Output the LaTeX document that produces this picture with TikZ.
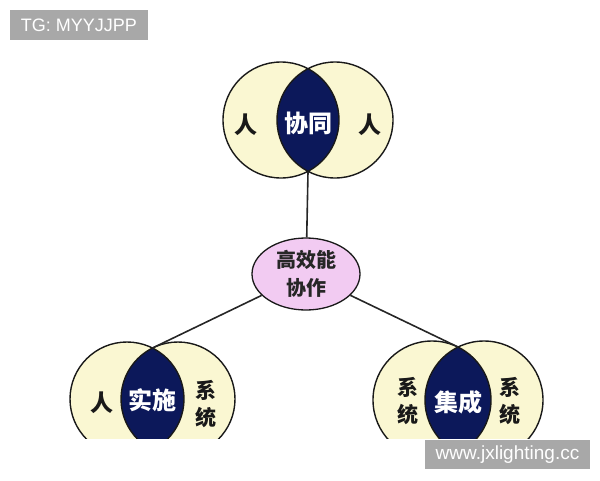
\documentclass[tikz,border=0pt]{standalone}
\usepackage{fontspec}
\setmainfont{Liberation Sans}
\newfontfamily\cjk{Noto Sans CJK SC}
\usetikzlibrary{shapes.geometric,positioning}

\definecolor{cream}{HTML}{FAF7D2}
\definecolor{navy}{HTML}{0C185A}
\definecolor{lilac}{HTML}{F2CBF2}
\definecolor{wmgray}{HTML}{A8A8A8}

\begin{document}
\begin{tikzpicture}[x=1pt,y=-1pt,
    % Styles
    ring/.style={draw=black!90, line width=1.4pt},
    lens/.style={fill=navy},
    lenstext/.style={font=\cjk\bfseries\fontsize{24}{26}\selectfont, text=white},
    sidetext/.style={font=\cjk\bfseries\fontsize{23}{26}\selectfont, text=black!90, align=center},
    systext/.style={sidetext, font=\cjk\bfseries\fontsize{21}{27}\selectfont},
    hub/.style={ellipse, draw=black!90, line width=1.3pt, fill=lilac,
                minimum width=108pt, minimum height=72pt, inner sep=0pt,
                align=center, font=\cjk\bfseries\fontsize{20}{28}\selectfont, text=black!85},
    link/.style={draw=black!85, line width=1.6pt},
    wmbox/.style={fill=wmgray, text=white, inner sep=0pt, font=\fontsize{18}{20}\selectfont}
]
\useasboundingbox (0,0) rectangle (600,480);

% 1. Top pair: people + people
\coordinate (tl) at (281,120);
\coordinate (tr) at (335,120);
\coordinate (tbot) at (308,172);
\fill[cream] (tl) circle (58pt) (tr) circle (58pt);
\begin{scope}
  \clip (tl) circle (58pt);
  \fill[lens] (tr) circle (58pt);
\end{scope}
\draw[ring] (tl) circle (58pt) (tr) circle (58pt);
\node[lenstext] (xietong) at (308,123) {协同};
\node[sidetext] (ren1) at (246,125) {人};
\node[sidetext] (ren2) at (370,125) {人};

% 2. Hub ellipse
\node[hub] (eff) at (306,274) {高效能\\协作};

% 3. Bottom pairs (cut off at the bottom)
\begin{scope}
  \clip (0,0) rectangle (600,438);
  % left pair: people + system
  \coordinate (bl1) at (127,399);
  \coordinate (bl2) at (178,399);
  \fill[cream] (bl1) circle (57pt) (bl2) circle (57pt);
  \begin{scope}
    \clip (bl1) circle (57pt);
    \fill[lens] (bl2) circle (57pt);
  \end{scope}
  \draw[ring] (bl1) circle (57pt) (bl2) circle (57pt);
  % right pair: system + system
  \coordinate (br1) at (432,400);
  \coordinate (br2) at (484,400);
  \fill[cream] (br1) circle (59pt) (br2) circle (59pt);
  \begin{scope}
    \clip (br1) circle (59pt);
    \fill[lens] (br2) circle (59pt);
  \end{scope}
  \draw[ring] (br1) circle (59pt) (br2) circle (59pt);
\end{scope}
\coordinate (bltop) at (152.5,348);
\coordinate (brtop) at (458,347);

\node[lenstext] (shishi) at (152,400) {实施};
\node[sidetext] (ren3) at (102,403) {人};
\node[systext] (xt1) at (206,404) {系\\统};
\node[lenstext] (jicheng) at (458,402) {集成};
\node[systext] (xt2) at (408,401) {系\\统};
\node[systext] (xt3) at (510,401) {系\\统};

% Connectors
\draw[link] (tbot) -- (eff);
\draw[link] (eff) -- (bltop);
\draw[link] (eff) -- (brtop);

% Watermarks
\node[wmbox, minimum width=138pt, minimum height=30pt] (tg) at (79,25) {TG: MYYJJPP};
\node[wmbox, font=\fontsize{19}{21}\selectfont, minimum width=165pt, minimum height=29pt] (site) at (507.5,454.5) {www.jxlighting.cc};

\end{tikzpicture}
\end{document}
